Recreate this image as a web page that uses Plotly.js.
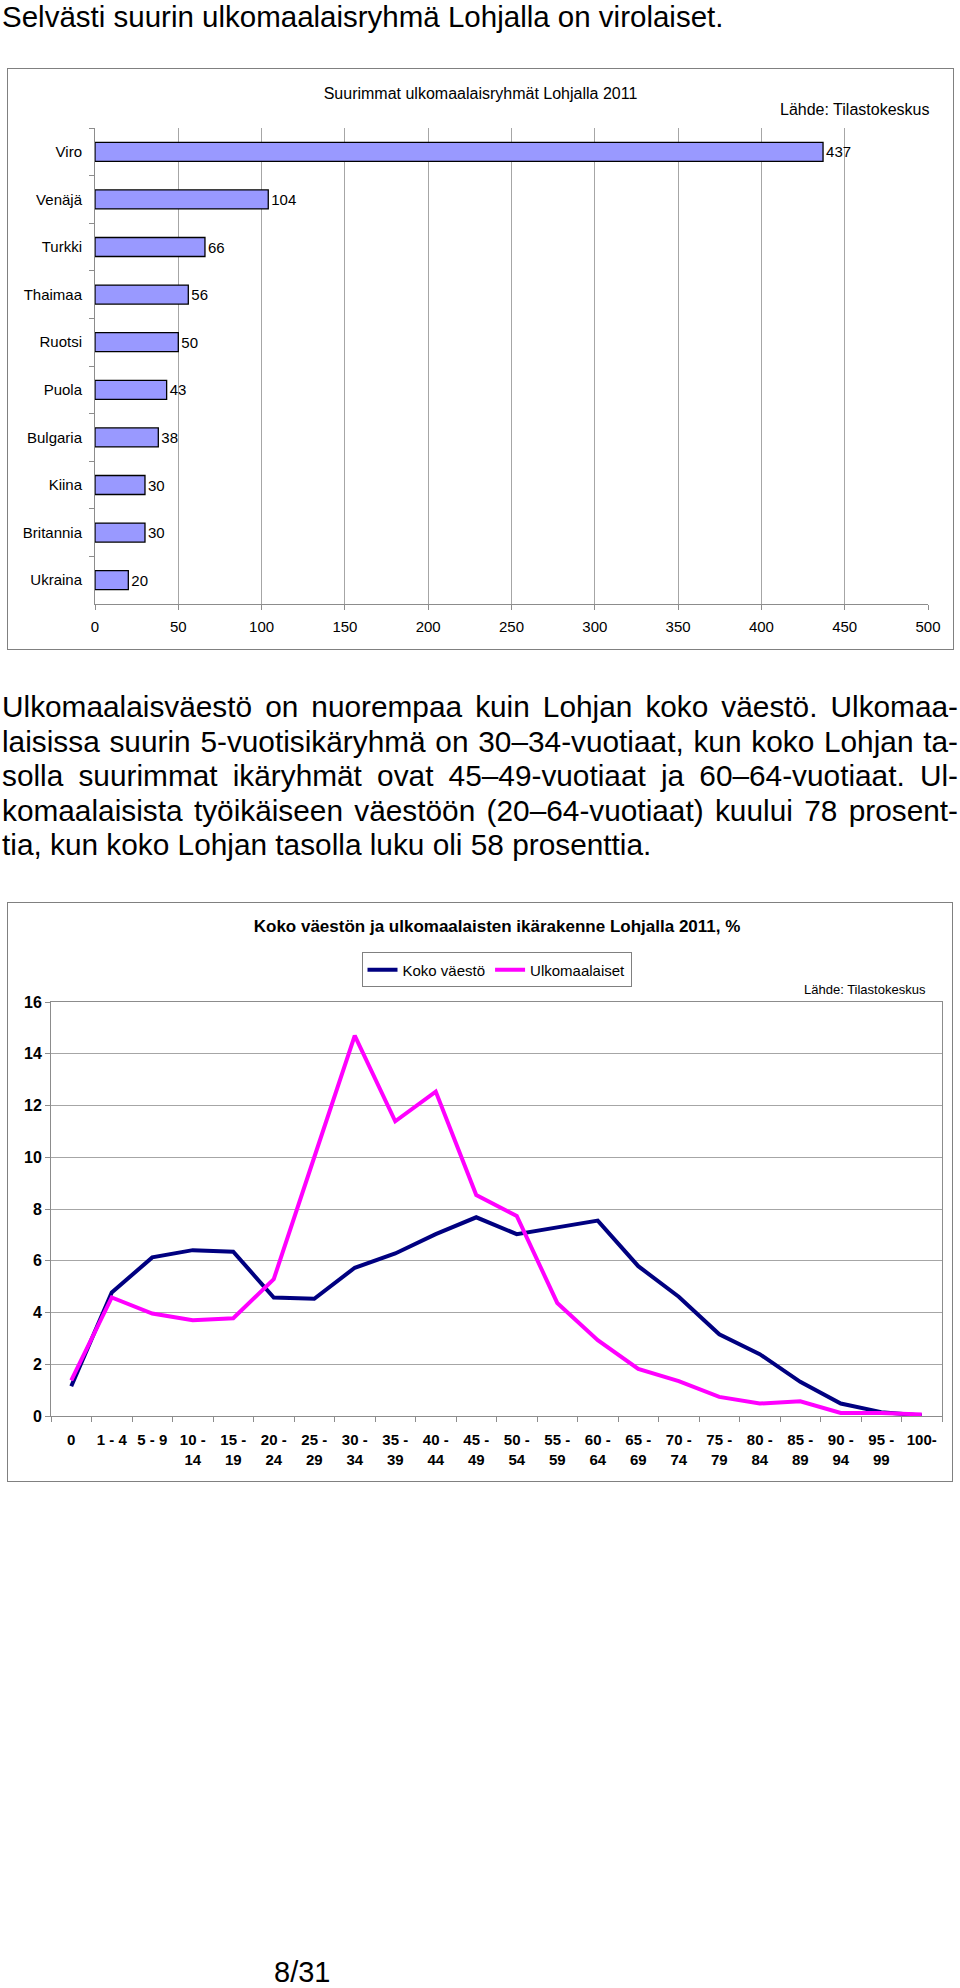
<!DOCTYPE html>
<html>
<head>
<meta charset="utf-8">
<script src="https://cdn.plot.ly/plotly-3.0.1.min.js"></script>
<style>
html,body{margin:0;padding:0;background:#fff;}
body{width:960px;height:1988px;position:relative;overflow:hidden;font-family:"Liberation Sans",Arial,sans-serif;color:#000;}
#heading{position:absolute;left:2px;top:0px;font-size:29.5px;line-height:33px;white-space:nowrap;}
#para{position:absolute;left:2px;top:690px;width:956px;font-size:29.8px;line-height:34.5px;}
#para .j{text-align:justify;text-align-last:justify;}
#para .l{text-align:left;}
#pagenum{position:absolute;left:274px;top:1958px;font-size:29px;line-height:29px;}
.chart{position:absolute;outline:1px solid #808080;outline-offset:-1px;background:#fff;}
#chart1{left:7px;top:68px;width:947px;height:582px;}
#chart2{left:7px;top:902px;width:946px;height:580px;}
</style>
</head>
<body>
<div id="heading">Selvästi suurin ulkomaalaisryhmä Lohjalla on virolaiset.</div>
<div id="chart1" class="chart"></div>
<div id="para">
<div class="j">Ulkomaalaisväestö on nuorempaa kuin Lohjan koko väestö. Ulkomaa-</div>
<div class="j">laisissa suurin 5-vuotisikäryhmä on 30–34-vuotiaat, kun koko Lohjan ta-</div>
<div class="j">solla suurimmat ikäryhmät ovat 45–49-vuotiaat ja 60–64-vuotiaat. Ul-</div>
<div class="j">komaalaisista työikäiseen väestöön (20–64-vuotiaat) kuului 78 prosent-</div>
<div class="l">tia, kun koko Lohjan tasolla luku oli 58 prosenttia.</div>
</div>
<div id="chart2" class="chart"></div>
<div id="pagenum">8/31</div>
<script>
// ---- Data: chart 1 ----
const countries = ['Viro','Venäjä','Turkki','Thaimaa','Ruotsi','Puola','Bulgaria','Kiina','Britannia','Ukraina'];
const counts = [437,104,66,56,50,43,38,30,30,20];
const countTicks = [0,50,100,150,200,250,300,350,400,450,500];

// ---- Data: chart 2 ----
const ageGroups = ['0','1 - 4','5 - 9','10 - 14','15 - 19','20 - 24','25 - 29','30 - 34','35 - 39','40 - 44','45 - 49',
  '50 - 54','55 - 59','60 - 64','65 - 69','70 - 74','75 - 79','80 - 84','85 - 89','90 - 94','95 - 99','100-'];
const ageTickLabels = ['0','1 - 4','5 - 9','10 -<br>14','15 -<br>19','20 -<br>24','25 -<br>29','30 -<br>34','35 -<br>39','40 -<br>44','45 -<br>49',
  '50 -<br>54','55 -<br>59','60 -<br>64','65 -<br>69','70 -<br>74','75 -<br>79','80 -<br>84','85 -<br>89','90 -<br>94','95 -<br>99','100-'];
const kokoVaesto = [1.15,4.77,6.13,6.41,6.35,4.58,4.53,5.73,6.28,7.03,7.68,7.03,7.29,7.55,5.79,4.61,3.16,2.39,1.32,0.48,0.15,0.02];
const ulkomaalaiset = [1.38,4.58,3.96,3.70,3.78,5.29,10.0,14.70,11.39,12.54,8.54,7.73,4.37,2.93,1.82,1.35,0.74,0.48,0.57,0.12,0.12,0.06];
const pctTicks = [0,2,4,6,8,10,12,14,16];

const F = '"Liberation Sans", Arial, sans-serif';
const AX = '#8c8c8c';
const GRID = '#a6a6a6';
const cfg = {staticPlot:true, displayModeBar:false};

Plotly.newPlot('chart1', [{
  type:'bar', orientation:'h',
  x: counts, y: countries,
  width: 0.4,
  marker:{color:'#9999FF', line:{color:'#000000', width:1.3}},
  text: counts.map(String), textposition:'outside', cliponaxis:false,
  textfont:{size:15, color:'#000', family:F},
  hoverinfo:'none'
}], {
  width:947, height:582,
  margin:{l:88, r:26, t:60, b:46},
  paper_bgcolor:'rgba(0,0,0,0)', plot_bgcolor:'#fff',
  font:{family:F, size:15, color:'#000'},
  title:{text:'Suurimmat ulkomaalaisryhmät Lohjalla 2011', font:{size:16, family:F, color:'#000'},
         x:0.5, xanchor:'center', xref:'container', y:0.957, yanchor:'middle', yref:'container'},
  showlegend:false,
  xaxis:{range:[0,500], tickmode:'array', tickvals:countTicks, showgrid:true, gridcolor:GRID, gridwidth:1,
         showline:true, linecolor:AX, linewidth:1, ticks:'outside', ticklen:5, tickcolor:AX,
         zeroline:false, tickfont:{size:15}, ticklabelstandoff:4},
  yaxis:{type:'category', autorange:'reversed', showline:true, linecolor:AX, linewidth:1,
         ticks:'outside', tickson:'boundaries', ticklen:5, tickcolor:AX, showgrid:false,
         tickfont:{size:15}, ticklabelstandoff:9},
  annotations:[{text:'Lähde: Tilastokeskus', xref:'paper', yref:'paper', x:1.0036, y:1.039,
                xanchor:'right', yanchor:'middle', showarrow:false, font:{size:16, family:F, color:'#000'}}]
}, cfg);

Plotly.newPlot('chart2', [
  {type:'scatter', mode:'lines', name:'Koko väestö', x:ageGroups, y:kokoVaesto,
   line:{color:'#000080', width:4}, hoverinfo:'none'},
  {type:'scatter', mode:'lines', name:'Ulkomaalaiset', x:ageGroups, y:ulkomaalaiset,
   line:{color:'#FF00FF', width:4}, hoverinfo:'none'}
], {
  width:946, height:580,
  margin:{l:44, r:11, t:100, b:66},
  paper_bgcolor:'rgba(0,0,0,0)', plot_bgcolor:'#fff',
  font:{family:F, size:15, color:'#000'},
  title:{text:'<b>Koko väestön ja ulkomaalaisten ikärakenne Lohjalla 2011, %</b>', font:{size:17, family:F, color:'#000'},
         x:0.518, xanchor:'center', xref:'container', y:1-24/580, yanchor:'middle', yref:'container'},
  showlegend:true,
  legend:{orientation:'h', x:0.5, xanchor:'center', xref:'paper', y:1.0774, yanchor:'middle', yref:'paper',
          bordercolor:'#808080', borderwidth:1, bgcolor:'#fff', font:{size:15, family:F, color:'#000'},
          itemwidth:30, tracegroupgap:0},
  xaxis:{type:'category', range:[-0.5, 21.5], tickmode:'array', tickvals:ageGroups, ticktext:ageTickLabels,
         tickson:'boundaries', ticks:'outside', ticklen:5, tickcolor:AX,
         showline:true, mirror:true, linecolor:AX, linewidth:1, showgrid:false,
         tickfont:{size:15, weight:700}, ticklabelstandoff:10},
  yaxis:{range:[0,16], tickmode:'array', tickvals:pctTicks, showgrid:true, gridcolor:GRID, gridwidth:1,
         showline:true, mirror:true, linecolor:AX, linewidth:1, ticks:'outside', ticklen:5, tickcolor:AX,
         zeroline:false, tickfont:{size:16, weight:700}},
  annotations:[{text:'Lähde: Tilastokeskus', xref:'paper', yref:'paper', x:0.984, y:1.031,
                xanchor:'right', yanchor:'middle', showarrow:false, font:{size:13, family:F, color:'#000'}}]
}, cfg);
</script>
</body>
</html>
